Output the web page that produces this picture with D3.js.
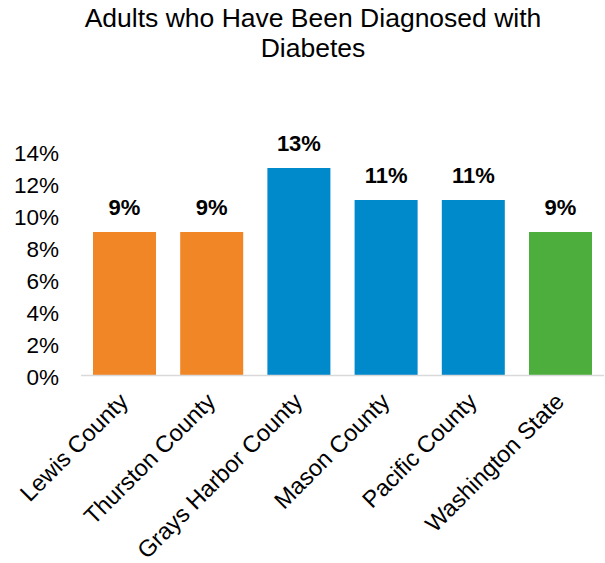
<!DOCTYPE html>
<html>
<head>
<meta charset="utf-8">
<script src="https://cdn.jsdelivr.net/npm/d3@7"></script>
<style>
  body { margin: 0; background: #fff; }
  svg { display: block; font-family: "Liberation Sans", Arial, sans-serif; }
</style>
</head>
<body>
<svg id="chart" width="605" height="563"></svg>
<script>
// Share of adults ever diagnosed with diabetes, by area
const areas = ["Lewis County", "Thurston County", "Grays Harbor County", "Mason County", "Pacific County", "Washington State"];
const rates = [9, 9, 13, 11, 11, 9];
const groups = ["local", "local", "peer", "peer", "peer", "state"];
const yTicks = [0, 2, 4, 6, 8, 10, 12, 14];
const titleLines = ["Adults who Have Been Diagnosed with", "Diabetes"];

const colour = d3.scaleOrdinal()
  .domain(["local", "peer", "state"])
  .range(["#F08626", "#0089CB", "#4DAE3E"]);

const svg = d3.select("#chart");

const x = d3.scaleBand().domain(areas).range([81, 604]).paddingInner(0.2775).paddingOuter(0.1376);
const y = d3.scaleLinear().domain([0, 14]).range([376, 152]);

// Title
svg.append("g").selectAll("text").data(titleLines).join("text")
  .attr("x", 313).attr("y", (d, i) => 27 + i * 30)
  .attr("text-anchor", "middle")
  .attr("font-size", 26.5)
  .attr("fill", "#000")
  .text(d => d);

// Y axis labels (no line, no tick marks)
const yAxis = svg.append("g").attr("transform", "translate(59,0)")
  .call(d3.axisLeft(y).tickValues(yTicks).tickFormat(d => d + "%").tickSize(0).tickPadding(0));
yAxis.select(".domain").remove();
yAxis.selectAll("text").attr("font-size", 22.5).attr("fill", "#000").attr("font-family", null)
  .attr("dy", "0.37em");

// Bars
svg.append("g").selectAll("rect").data(areas).join("rect")
  .attr("x", d => x(d))
  .attr("width", x.bandwidth())
  .attr("y", (d, i) => y(rates[i]))
  .attr("height", (d, i) => y(0) - y(rates[i]))
  .attr("fill", (d, i) => colour(groups[i]));

// Baseline
svg.append("line")
  .attr("x1", 81).attr("x2", 604)
  .attr("y1", y(0) - 0.5).attr("y2", y(0) - 0.5)
  .attr("stroke", "#D9D9D9").attr("stroke-width", 1.5);

// Value labels
svg.append("g").selectAll("text").data(areas).join("text")
  .attr("x", d => x(d) + x.bandwidth() / 2)
  .attr("y", (d, i) => y(rates[i]) - 17)
  .attr("text-anchor", "middle")
  .attr("font-size", 22)
  .attr("font-weight", "bold")
  .attr("fill", "#000")
  .text((d, i) => rates[i] + "%");

// Category labels, rotated
const xAxis = svg.append("g").attr("transform", `translate(0,${y(0)})`)
  .call(d3.axisBottom(x).tickSize(0).tickPadding(0));
xAxis.select(".domain").remove();
xAxis.selectAll("text")
  .attr("font-size", 23.5).attr("fill", "#000").attr("font-family", null)
  .attr("text-anchor", "end")
  .attr("dy", null).attr("y", 0)
  .attr("transform", "translate(5,27) rotate(-45)");
</script>
</body>
</html>
